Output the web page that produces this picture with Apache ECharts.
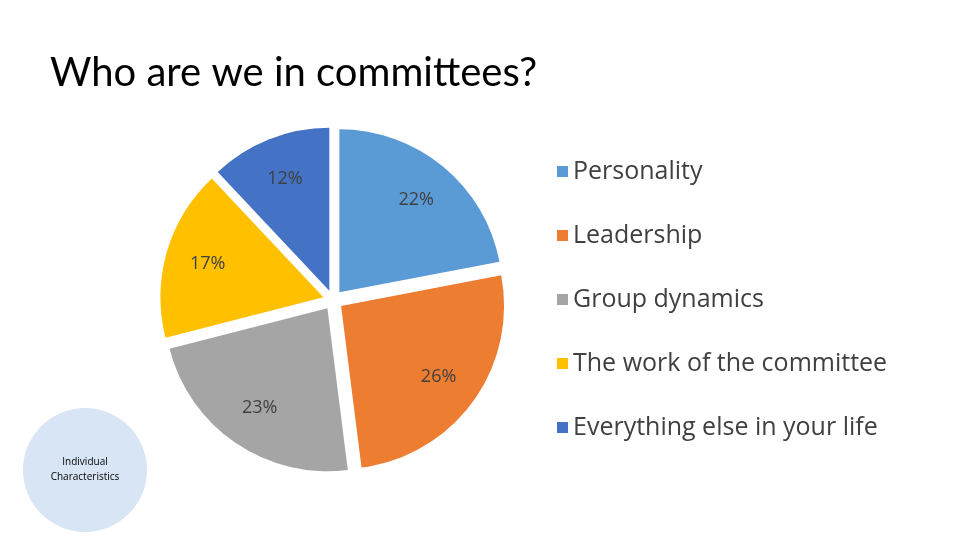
<!DOCTYPE html>
<html><head><meta charset="utf-8">
<script src="https://cdn.jsdelivr.net/npm/echarts@6/dist/echarts.min.js"></script>
<style>html,body{margin:0;padding:0;background:#fff}#c{width:960px;height:540px}</style>
</head><body><div id="c"></div>
<script>
const categories = ['Personality','Leadership','Group dynamics','The work of the committee','Everything else in your life'];
const values = [22, 26, 23, 17, 12];
const colors = ['#5b9bd5','#ed7d31','#a5a5a5','#ffc000','#4472c4'];
const data = categories.map((n,i)=>({name:n,value:values[i],selected:true,itemStyle:{color:colors[i]}}));
const chart = echarts.init(document.getElementById('c'));
chart.setOption({
  animation:false,
  title:{text:'Who are we in committees?',left:45,top:48,textStyle:{fontFamily:'Lato',fontWeight:'normal',fontSize:40,color:'#000'}},
  legend:{orient:'vertical',left:552,top:154,itemWidth:11,itemHeight:11,itemGap:39,icon:'rect',
    textStyle:{fontFamily:'Open Sans',fontSize:25,color:'#404040'},data:categories},
  graphic:[
    {type:'circle',shape:{cx:85,cy:470,r:62},style:{fill:'#d7e5f4'},z:0},
    {type:'text',x:85,y:470,style:{text:'Individual\nCharacteristics',fontFamily:'Open Sans',fontSize:10,fill:'#000',align:'center',verticalAlign:'middle',lineHeight:15}}
  ],
  series:[
    {type:'pie',z:1,center:[333,300],radius:[0,163],startAngle:90,clockwise:true,selectedMode:'multiple',selectedOffset:10,
     silent:true,label:{show:false},labelLine:{show:false},data:data},
    {type:'pie',z:5,zlevel:1,center:[333,300],radius:[0,255],startAngle:90,clockwise:true,silent:true,legendHoverLink:false,
     itemStyle:{color:'rgba(255,255,255,0)',opacity:1},labelLine:{show:false},avoidLabelOverlap:false,
     label:{show:true,position:'inside',formatter:'{c}%',fontFamily:'Open Sans',fontSize:18,color:'#404040'},
     data:categories.map((n,i)=>({name:n+' ',value:values[i],label:{show:true}}))}
  ]
});
</script></body></html>
